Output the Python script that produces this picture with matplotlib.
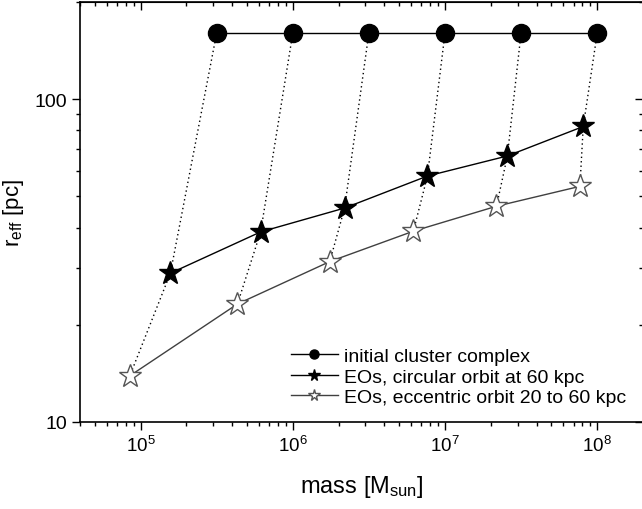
import matplotlib
matplotlib.use("Agg")
import matplotlib.pyplot as plt
from matplotlib.ticker import LogLocator, FixedLocator, FixedFormatter, NullFormatter, LogFormatterMathtext

plt.rcParams['font.family'] = ['Liberation Sans', 'DejaVu Sans']
plt.rcParams['mathtext.default'] = 'regular'

# Initial cluster complexes (mass in M_sun, effective radius in pc)
init_mass = [3.16e5, 1.0e6, 3.16e6, 1.0e7, 3.16e7, 1.0e8]
init_reff = [160, 160, 160, 160, 160, 160]

# Extended objects on a circular orbit at 60 kpc
circ_mass = [1.57e5, 6.15e5, 2.19e6, 7.67e6, 2.57e7, 8.1e7]
circ_reff = [28.9, 38.8, 46.0, 57.8, 66.7, 82.3]

# Extended objects on an eccentric orbit 20 to 60 kpc
ecc_mass = [8.5e4, 4.33e5, 1.75e6, 6.2e6, 2.18e7, 7.7e7]
ecc_reff = [13.9, 23.2, 31.4, 39.0, 46.6, 53.7]

fig = plt.figure(figsize=(6.42, 5.10), dpi=100)
ax = fig.add_axes([80 / 642, 87 / 510, 563 / 642, 420 / 510])

# dotted tracks from each initial complex to its remnants
for i in range(len(init_mass)):
    ax.plot([init_mass[i], circ_mass[i], ecc_mass[i]],
            [init_reff[i], circ_reff[i], ecc_reff[i]],
            color='black', lw=1.0, ls=(0, (1, 2.2)), zorder=1)

ax.plot(init_mass, init_reff, color='black', lw=1.0, marker='o', ms=13,
        mfc='black', mec='black', label='initial cluster complex', zorder=3)
ax.plot(circ_mass, circ_reff, color='black', lw=1.0, marker='*', ms=17,
        mfc='black', mec='black', label='EOs, circular orbit at 60 kpc', zorder=3)
ax.plot(ecc_mass, ecc_reff, color='#404040', lw=1.0, marker='*', ms=17,
        mfc='white', mec='#555555', mew=1.0,
        label='EOs, eccentric orbit 20 to 60 kpc', zorder=3)

ax.set_xscale('log')
ax.set_yscale('log')
ax.set_xlim(4e4, 2e8)
ax.set_ylim(10, 200)

ax.xaxis.set_major_locator(LogLocator(base=10, numticks=10))
ax.xaxis.set_minor_locator(LogLocator(base=10, subs=range(2, 10), numticks=20))
ax.xaxis.set_major_formatter(LogFormatterMathtext())
ax.xaxis.set_minor_formatter(NullFormatter())

ax.yaxis.set_major_locator(FixedLocator([10, 100]))
ax.yaxis.set_major_formatter(FixedFormatter(['10', '100']))
ax.yaxis.set_minor_locator(LogLocator(base=10, subs=range(2, 10), numticks=20))
ax.yaxis.set_minor_formatter(NullFormatter())

ax.tick_params(which='both', direction='out', top=False, right=False, width=1.0)
ax.tick_params(which='major', length=6, pad=3.5)
ax.tick_params(which='minor', length=3)
ax.tick_params(axis='x', labelsize=13.5)
ax.tick_params(axis='y', labelsize=14)

# inward ticks on the top and right edges
top = ax.secondary_xaxis('top')
top.xaxis.set_major_locator(LogLocator(base=10, numticks=10))
top.xaxis.set_minor_locator(LogLocator(base=10, subs=range(2, 10), numticks=20))
top.tick_params(which='both', direction='in', labeltop=False, width=1.0)
top.tick_params(which='major', length=6)
top.tick_params(which='minor', length=3)

right = ax.secondary_yaxis('right')
right.yaxis.set_major_locator(FixedLocator([10, 100]))
right.yaxis.set_minor_locator(LogLocator(base=10, subs=range(2, 10), numticks=20))
right.tick_params(which='both', direction='in', labelright=False, width=1.0)
right.tick_params(which='major', length=6)
right.tick_params(which='minor', length=3)

for s in ax.spines.values():
    s.set_linewidth(1.2)

ax.set_xlabel('mass [M$_{sun}$]', fontsize=17, labelpad=13)
ax.set_ylabel('r$_{eff}$ [pc]', fontsize=16, labelpad=6)

ax.legend(loc='lower right', bbox_to_anchor=(0.99, 0.01), frameon=False,
          fontsize=14, markerscale=0.5, handlelength=2.4, handletextpad=0.3,
          labelspacing=0.15, borderaxespad=0.2)

fig.savefig('out.png', dpi=100)
